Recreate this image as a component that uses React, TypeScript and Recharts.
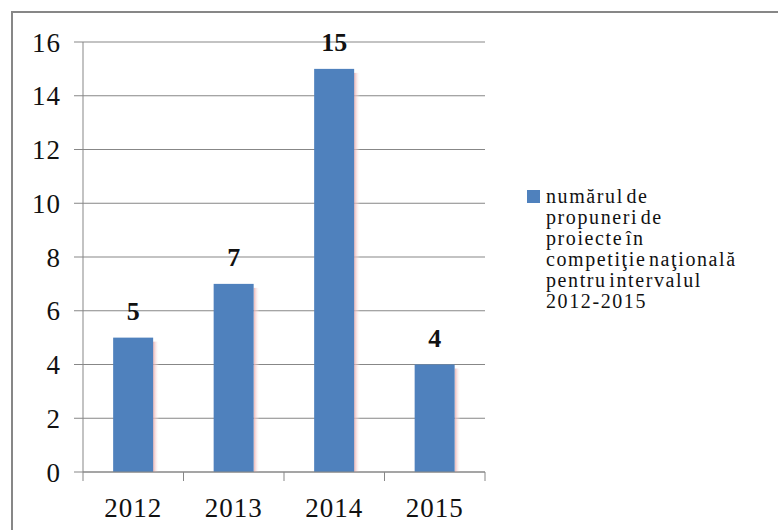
import { BarChart, Bar, XAxis, YAxis, CartesianGrid, Legend, LabelList } from "recharts";

const YEARS = ["2012", "2013", "2014", "2015"];
const PROPOSALS = [5, 7, 15, 4];
const Y_TICKS = [0, 2, 4, 6, 8, 10, 12, 14, 16];
const SERIES_NAME =
  "numărul de propuneri de proiecte în competiţie naţională pentru intervalul 2012-2015";
const LEGEND_LINES = [
  "numărul de",
  "propuneri de",
  "proiecte în",
  "competiţie naţională",
  "pentru intervalul",
  "2012-2015",
];

const BLUE = "#4F81BD";
const GRID = "#878787";
const FONT = "'Liberation Serif', serif";

const data = YEARS.map((year, i) => ({ year, value: PROPOSALS[i] }));

function ShadowBar(props: any) {
  const { x, y, width, height, fill } = props;
  return (
    <g>
      <rect x={x + width} y={y + 4} width={6} height={Math.max(height - 4, 0)} fill="url(#barShade)" />
      <rect x={x} y={y} width={width} height={height} fill={fill} />
    </g>
  );
}

function YearTick(props: any) {
  const { x, y, payload, index } = props;
  const half = payload.offset || 0;
  const axisY = y - 26;
  return (
    <g>
      <line x1={x - half} x2={x - half} y1={axisY} y2={axisY + 9} stroke={GRID} />
      {index === YEARS.length - 1 && (
        <line x1={x + half} x2={x + half} y1={axisY} y2={axisY + 9} stroke={GRID} />
      )}
      <text
        x={x}
        y={y}
        dy="0.71em"
        textAnchor="middle"
        fontFamily={FONT}
        fontSize={27}
        letterSpacing={1}
        fill="#111"
      >
        {payload.value}
      </text>
    </g>
  );
}

function SideLegend() {
  return (
    <div style={{ display: "flex", alignItems: "flex-start", fontFamily: FONT, fontSize: 20, color: "#111" }}>
      <span style={{ width: 13, height: 13, background: BLUE, marginTop: 4, marginRight: 6, flex: "none" }} />
      <div style={{ lineHeight: "21px", letterSpacing: 1.6, wordSpacing: -4, whiteSpace: "nowrap" }}>
        {LEGEND_LINES.map((line) => (
          <div key={line}>{line}</div>
        ))}
      </div>
    </div>
  );
}

export default function App() {
  return (
    <div style={{ position: "absolute", left: 0, top: 0, width: 778, height: 530, background: "#fff", overflow: "hidden" }}>
      <div
        style={{
          position: "absolute",
          left: 11,
          top: 11,
          width: 800,
          height: 600,
          borderLeft: `2px solid ${GRID}`,
          borderTop: `2px solid ${GRID}`,
        }}
      />
      <BarChart
        width={778}
        height={530}
        data={data}
        margin={{ top: 42, right: 293, bottom: 0, left: 0 }}
        barCategoryGap="30%"
      >
        <defs>
          <linearGradient id="barShade" x1="0" y1="0" x2="1" y2="0">
            <stop offset="0%" stopColor="#e7a9a9" stopOpacity={0.9} />
            <stop offset="100%" stopColor="#ffffff" stopOpacity={0} />
          </linearGradient>
        </defs>
        <CartesianGrid vertical={false} stroke={GRID} />
        <XAxis
          dataKey="year"
          height={58}
          stroke={GRID}
          tickLine={false}
          tickSize={0}
          tickMargin={26}
          tick={<YearTick />}
          interval={0}
        />
        <YAxis
          width={83}
          domain={[0, 16]}
          ticks={Y_TICKS}
          stroke={GRID}
          tickSize={9}
          tickMargin={13}
          tick={{ fontFamily: FONT, fontSize: 27, letterSpacing: 1, fill: "#111" }}
        />
        <Legend
          layout="vertical"
          align="center"
          verticalAlign="middle"
          wrapperStyle={{ left: 527, top: 186, width: 250 }}
          content={<SideLegend />}
        />
        <Bar dataKey="value" name={SERIES_NAME} fill={BLUE} shape={<ShadowBar />} isAnimationActive={false}>
          <LabelList
            dataKey="value"
            position="top"
            offset={18}
            style={{ fontFamily: FONT, fontWeight: 700, fontSize: 26, fill: "#111" }}
          />
        </Bar>
      </BarChart>
    </div>
  );
}
